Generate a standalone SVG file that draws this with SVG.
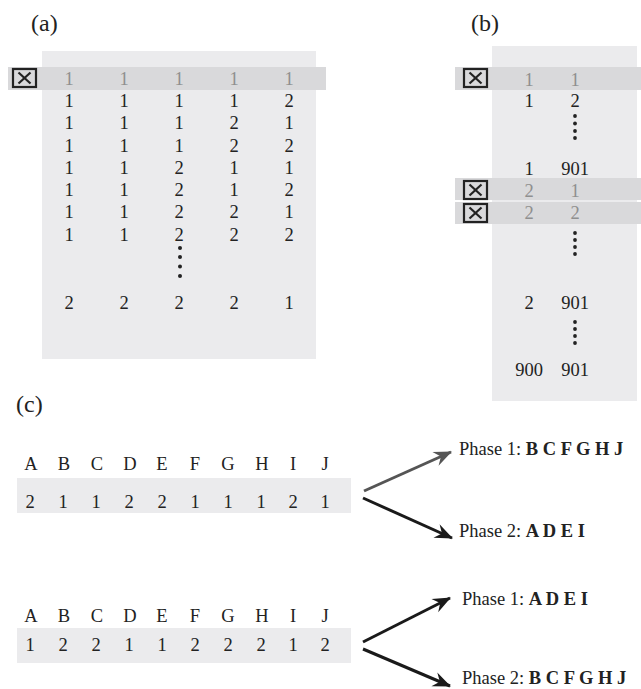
<svg xmlns="http://www.w3.org/2000/svg" width="641" height="689" viewBox="0 0 641 689" font-family="'Liberation Serif', Tinos, 'Times New Roman', serif">
<style>
text{font-family:'Liberation Serif',Tinos,'Times New Roman',serif;font-size:18.5px;fill:#222}
.lbl{font-size:24px}
.m{text-anchor:middle}
.g{fill:#8f8f8f}
.box{fill:#ebebed}
.band{fill:#d9d9db}
.cb{fill:none;stroke:#222;stroke-width:2.2}
.cbx{stroke:#222;stroke-width:2.2}
.dot{fill:#222}
.b{font-weight:bold}
.arr{fill:none;stroke-width:3}
</style>
<defs>
<marker id="ahk" viewBox="-18 -8 20 16" refX="0" refY="0" markerWidth="20" markerHeight="16" markerUnits="userSpaceOnUse" orient="auto">
<path d="M1,0 L-17,-7.5 L-11,0 L-17,7.5 Z" fill="#1a1a1a"/>
</marker>
<marker id="ahg" viewBox="-18 -8 20 16" refX="0" refY="0" markerWidth="20" markerHeight="16" markerUnits="userSpaceOnUse" orient="auto">
<path d="M1,0 L-17,-7.5 L-11,0 L-17,7.5 Z" fill="#555"/>
</marker>
<g id="cbox"><rect class="cb" x="0" y="0" width="23" height="18"/><line class="cbx" x1="5.5" y1="3.5" x2="17.5" y2="14.5"/><line class="cbx" x1="17.5" y1="3.5" x2="5.5" y2="14.5"/></g>
</defs>

<g id="panel-a">
<text class="lbl" x="31" y="31">(a)</text>
<rect class="box" x="42" y="51" width="274" height="308"/>
<rect class="band" x="8" y="67" width="318" height="23"/>
<use href="#cbox" x="13" y="69"/>
<g>
<text class="m g" x="69" y="85">1</text><text class="m g" x="124" y="85">1</text><text class="m g" x="179" y="85">1</text><text class="m g" x="234" y="85">1</text><text class="m g" x="289" y="85">1</text>
<text class="m" x="69" y="107">1</text><text class="m" x="124" y="107">1</text><text class="m" x="179" y="107">1</text><text class="m" x="234" y="107">1</text><text class="m" x="289" y="107">2</text>
<text class="m" x="69" y="129">1</text><text class="m" x="124" y="129">1</text><text class="m" x="179" y="129">1</text><text class="m" x="234" y="129">2</text><text class="m" x="289" y="129">1</text>
<text class="m" x="69" y="151.5">1</text><text class="m" x="124" y="151.5">1</text><text class="m" x="179" y="151.5">1</text><text class="m" x="234" y="151.5">2</text><text class="m" x="289" y="151.5">2</text>
<text class="m" x="69" y="173.5">1</text><text class="m" x="124" y="173.5">1</text><text class="m" x="179" y="173.5">2</text><text class="m" x="234" y="173.5">1</text><text class="m" x="289" y="173.5">1</text>
<text class="m" x="69" y="196">1</text><text class="m" x="124" y="196">1</text><text class="m" x="179" y="196">2</text><text class="m" x="234" y="196">1</text><text class="m" x="289" y="196">2</text>
<text class="m" x="69" y="218">1</text><text class="m" x="124" y="218">1</text><text class="m" x="179" y="218">2</text><text class="m" x="234" y="218">2</text><text class="m" x="289" y="218">1</text>
<text class="m" x="69" y="241">1</text><text class="m" x="124" y="241">1</text><text class="m" x="179" y="241">2</text><text class="m" x="234" y="241">2</text><text class="m" x="289" y="241">2</text>
<text class="m" x="69" y="309">2</text><text class="m" x="124" y="309">2</text><text class="m" x="179" y="309">2</text><text class="m" x="234" y="309">2</text><text class="m" x="289" y="309">1</text>
</g>
<circle class="dot" cx="180" cy="248" r="2"/><circle class="dot" cx="180" cy="257" r="2"/><circle class="dot" cx="180" cy="266.5" r="2"/><circle class="dot" cx="180" cy="276" r="2"/>
</g>

<g id="panel-b">
<text class="lbl" x="471" y="31">(b)</text>
<rect class="box" x="492" y="46" width="145" height="355"/>
<rect class="band" x="455" y="67" width="186" height="23"/>
<rect class="band" x="455" y="178" width="186" height="22"/>
<rect class="band" x="455" y="202" width="186" height="22"/>
<use href="#cbox" x="464" y="69"/>
<use href="#cbox" x="464" y="181"/>
<use href="#cbox" x="464" y="204"/>
<text class="m g" x="529" y="86">1</text><text class="m g" x="575" y="86">1</text>
<text class="m" x="529" y="107">1</text><text class="m" x="575" y="107">2</text>
<circle class="dot" cx="575" cy="116" r="1.9"/><circle class="dot" cx="575" cy="123.5" r="1.9"/><circle class="dot" cx="575" cy="131" r="1.9"/><circle class="dot" cx="575" cy="138" r="1.9"/>
<text class="m" x="529" y="175">1</text><text class="m" x="575" y="175">901</text>
<text class="m g" x="529" y="197">2</text><text class="m g" x="575" y="197">1</text>
<text class="m g" x="529" y="219">2</text><text class="m g" x="575" y="219">2</text>
<circle class="dot" cx="575" cy="233" r="1.9"/><circle class="dot" cx="575" cy="240" r="1.9"/><circle class="dot" cx="575" cy="247" r="1.9"/><circle class="dot" cx="575" cy="254" r="1.9"/>
<text class="m" x="529" y="309">2</text><text class="m" x="575" y="309">901</text>
<circle class="dot" cx="575" cy="322" r="1.9"/><circle class="dot" cx="575" cy="329" r="1.9"/><circle class="dot" cx="575" cy="336" r="1.9"/><circle class="dot" cx="575" cy="343" r="1.9"/>
<text class="m" x="529" y="376">900</text><text class="m" x="575" y="376">901</text>
</g>

<g id="panel-c">
<text class="lbl" x="16" y="412">(c)</text>
<g id="row1">
<rect class="box" x="17" y="478" width="334" height="35"/>
<text class="m" x="31" y="470">A</text><text class="m" x="64" y="470">B</text><text class="m" x="97" y="470">C</text><text class="m" x="130" y="470">D</text><text class="m" x="162" y="470">E</text><text class="m" x="195" y="470">F</text><text class="m" x="228" y="470">G</text><text class="m" x="262" y="470">H</text><text class="m" x="293" y="470">I</text><text class="m" x="325" y="470">J</text>
<text class="m" x="30" y="508">2</text><text class="m" x="63" y="508">1</text><text class="m" x="96" y="508">1</text><text class="m" x="129" y="508">2</text><text class="m" x="162" y="508">2</text><text class="m" x="195" y="508">1</text><text class="m" x="228" y="508">1</text><text class="m" x="261" y="508">1</text><text class="m" x="293" y="508">2</text><text class="m" x="325" y="508">1</text>
</g>
<g id="phase-1a"><text x="459" y="455">Phase 1: <tspan class="b">B C F G H J</tspan></text></g>
<g id="phase-2a"><text x="459" y="537">Phase 2: <tspan class="b">A D E I</tspan></text></g>
<g id="row2">
<rect class="box" x="17" y="628" width="334" height="35"/>
<text class="m" x="31" y="622">A</text><text class="m" x="64" y="622">B</text><text class="m" x="97" y="622">C</text><text class="m" x="130" y="622">D</text><text class="m" x="162" y="622">E</text><text class="m" x="195" y="622">F</text><text class="m" x="228" y="622">G</text><text class="m" x="262" y="622">H</text><text class="m" x="293" y="622">I</text><text class="m" x="325" y="622">J</text>
<text class="m" x="30" y="651">1</text><text class="m" x="63" y="651">2</text><text class="m" x="96" y="651">2</text><text class="m" x="129" y="651">1</text><text class="m" x="162" y="651">1</text><text class="m" x="195" y="651">2</text><text class="m" x="228" y="651">2</text><text class="m" x="261" y="651">2</text><text class="m" x="293" y="651">1</text><text class="m" x="325" y="651">2</text>
</g>
<g id="phase-1b"><text x="462" y="605">Phase 1: <tspan class="b">A D E I</tspan></text></g>
<g id="phase-2b"><text x="462" y="684">Phase 2: <tspan class="b">B C F G H J</tspan></text></g>
</g>

<g id="connectors">
<line class="arr" x1="364" y1="491" x2="451" y2="452" stroke="#555" marker-end="url(#ahg)"/>
<line class="arr" x1="363" y1="498" x2="452" y2="538" stroke="#1a1a1a" marker-end="url(#ahk)"/>
<line class="arr" x1="363" y1="642" x2="450" y2="598" stroke="#1a1a1a" marker-end="url(#ahk)"/>
<line class="arr" x1="363" y1="649" x2="450" y2="686" stroke="#1a1a1a" marker-end="url(#ahk)"/>
</g>
</svg>
